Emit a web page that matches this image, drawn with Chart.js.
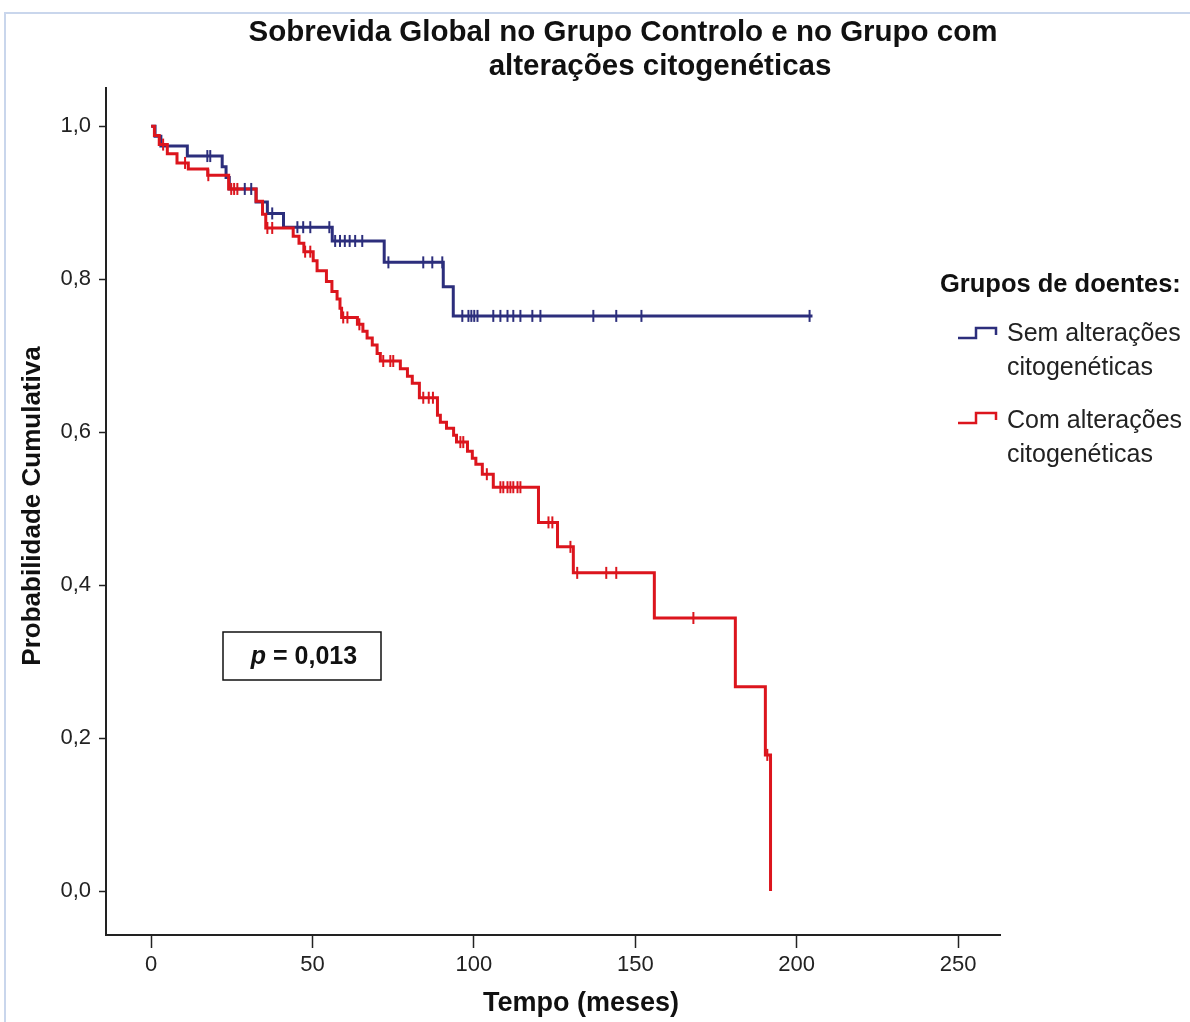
<!DOCTYPE html>
<html lang="pt">
<head>
    <meta charset="UTF-8">
    <title>Sobrevida Global</title>
    <style>
        body {
            margin: 0;
            background-color: #fff;
        }
        #caixa {
            width: 1190px;
            height: 1022px;
        }
    </style>
    <script src="https://cdn.jsdelivr.net/npm/chart.js@4/dist/chart.umd.min.js"></script>
</head>
<body>
    <div id="caixa"><canvas id="kmChart" width="1190" height="1022"></canvas></div>

    <script>
        // Grupo sem alterações citogenéticas (controlo)
        const semTempo = [0, 1.2, 3.0, 11.2, 22.0, 23.2, 24.2, 32.5, 36.0, 41.0, 56.1, 72.2, 90.5, 93.6, 204.9];
        const semSobrevida = [1.0, 0.987, 0.974, 0.961, 0.947, 0.933, 0.918, 0.901, 0.886, 0.868, 0.850, 0.822, 0.790, 0.752, 0.752];
        const semCensura = [17.4, 18.3, 29.0, 31.0, 37.5, 45.3, 47.1, 49.3, 55.2, 57.0, 58.5, 60.0, 61.5, 63.2, 65.4,
            73.5, 84.3, 87.1, 90.2, 96.4, 98.3, 99.2, 100.1, 101.1, 106.0, 108.2, 110.4, 112.2, 114.4, 118.1, 120.6,
            137.0, 144.1, 151.9, 204.0];

        // Grupo com alterações citogenéticas
        const comTempo = [0, 1.0, 2.5, 5.0, 8.0, 11.5, 17.5, 24.0, 32.5, 34.5, 35.5, 44.0, 45.8, 47.3, 50.2, 51.4,
            54.3, 56.0, 57.6, 58.5, 59.0, 63.9, 65.6, 66.9, 68.5, 70.0, 71.0, 77.2, 79.4, 80.9, 83.1, 88.7, 89.6,
            91.5, 93.7, 94.6, 98.0, 99.5, 100.6, 102.6, 106.0, 120.0, 125.9, 130.8, 155.9, 181.0, 190.3, 191.9];
        const comSobrevida = [1.0, 0.988, 0.976, 0.964, 0.952, 0.944, 0.936, 0.918, 0.902, 0.885, 0.867, 0.856, 0.847,
            0.836, 0.824, 0.811, 0.797, 0.784, 0.774, 0.762, 0.750, 0.741, 0.732, 0.723, 0.714, 0.703, 0.693, 0.683,
            0.673, 0.664, 0.645, 0.622, 0.613, 0.605, 0.596, 0.587, 0.575, 0.566, 0.558, 0.545, 0.528, 0.482, 0.450,
            0.416, 0.357, 0.267, 0.178, 0.0];
        const comCensura = [3.7, 10.5, 17.7, 24.8, 25.7, 26.7, 36.0, 37.5, 47.7, 49.3, 59.5, 60.8, 64.5, 71.9, 74.1,
            75.0, 84.3, 86.0, 87.3, 95.8, 96.7, 104.0, 108.2, 109.1, 110.4, 111.3, 112.2, 113.5, 114.4, 123.1, 124.3,
            129.9, 132.0, 141.0, 144.1, 168.0, 190.9];

        const ticksX = [0, 50, 100, 150, 200, 250];
        const ticksY = [0, 0.2, 0.4, 0.6, 0.8, 1.0];

        const titulo = ["Sobrevida Global no Grupo Controlo e no Grupo com", "alterações citogenéticas"];
        const tituloX = "Tempo (meses)";
        const tituloY = "Probabilidade Cumulativa";
        const legendaTitulo = "Grupos de doentes:";
        const legendaSem = ["Sem alterações", "citogenéticas"];
        const legendaCom = ["Com alterações", "citogenéticas"];
        const valorP = "0,013";

        const corSem = "#2c2e7c";
        const corCom = "#dc151d";
        const fonte = 'Arial, "Liberation Sans", sans-serif';

        // valor da curva (em escada) num dado tempo
        function sobrevidaEm(tempos, valores, t) {
            let v = valores[0];
            for (let i = 0; i < tempos.length; i++) {
                if (tempos[i] <= t) v = valores[i];
            }
            return v;
        }

        function pontos(tempos, valores) {
            return tempos.map((t, i) => ({ x: t, y: valores[i] }));
        }

        function censuras(lista, tempos, valores) {
            return lista.map(t => ({ x: t, y: sobrevidaEm(tempos, valores, t) }));
        }

        function iconeEscada(c, x, y, cor) {
            c.strokeStyle = cor;
            c.lineWidth = 2.5;
            c.beginPath();
            c.moveTo(x, y + 5);
            c.lineTo(x + 18, y + 5);
            c.lineTo(x + 18, y - 5);
            c.lineTo(x + 38, y - 5);
            c.lineTo(x + 38, y + 2);
            c.stroke();
        }

        const desenho = {
            id: "desenho",
            afterDraw(chart) {
                const c = chart.ctx;
                c.save();

                // moldura clara à volta da figura
                c.strokeStyle = "#c9d6ec";
                c.lineWidth = 2;
                c.beginPath();
                c.moveTo(5, 1022);
                c.lineTo(5, 13);
                c.lineTo(1190, 13);
                c.stroke();

                c.fillStyle = "#111";
                c.textBaseline = "middle";

                // título
                c.textAlign = "center";
                c.font = "bold 29.5px " + fonte;
                c.fillText(titulo[0], 623, 33);
                c.fillText(titulo[1], 660, 67);

                // títulos dos eixos
                c.font = "bold 27px " + fonte;
                c.fillText(tituloX, 581, 1004);
                c.font = "bold 26px " + fonte;
                c.save();
                c.translate(33, 506);
                c.rotate(-Math.PI / 2);
                c.fillText(tituloY, 0, 0);
                c.restore();

                // legenda
                c.textAlign = "left";
                c.font = "bold 25.5px " + fonte;
                c.fillText(legendaTitulo, 940, 285);
                c.font = "25px " + fonte;
                c.fillStyle = "#222";
                c.fillText(legendaSem[0], 1007, 334);
                c.fillText(legendaSem[1], 1007, 368);
                c.fillText(legendaCom[0], 1007, 421);
                c.fillText(legendaCom[1], 1007, 455);
                iconeEscada(c, 958, 333, corSem);
                iconeEscada(c, 958, 418, corCom);

                // caixa com o valor p
                c.strokeStyle = "#111";
                c.lineWidth = 1.5;
                c.strokeRect(223, 632, 158, 48);
                c.fillStyle = "#111";
                c.font = "italic bold 25px " + fonte;
                const w1 = c.measureText("p").width;
                c.font = "bold 25px " + fonte;
                const resto = " = " + valorP;
                const w2 = c.measureText(resto).width;
                const x0 = 304 - (w1 + w2) / 2;
                c.font = "italic bold 25px " + fonte;
                c.fillText("p", x0, 657);
                c.font = "bold 25px " + fonte;
                c.fillText(resto, x0 + w1, 657);

                c.restore();
            }
        };

        const ctx = document.getElementById("kmChart").getContext("2d");

        new Chart(ctx, {
            type: "scatter",
            data: {
                datasets: [
                    {
                        label: legendaSem.join(" "),
                        data: censuras(semCensura, semTempo, semSobrevida),
                        pointStyle: "line",
                        pointRotation: 90,
                        pointRadius: 6,
                        pointBorderWidth: 2,
                        pointBorderColor: corSem
                    },
                    {
                        label: legendaCom.join(" "),
                        data: censuras(comCensura, comTempo, comSobrevida),
                        pointStyle: "line",
                        pointRotation: 90,
                        pointRadius: 6,
                        pointBorderWidth: 2,
                        pointBorderColor: corCom
                    },
                    {
                        label: legendaCom.join(" "),
                        data: pontos(comTempo, comSobrevida),
                        showLine: true,
                        stepped: "before",
                        borderColor: corCom,
                        borderWidth: 3,
                        pointRadius: 0
                    },
                    {
                        label: legendaSem.join(" "),
                        data: pontos(semTempo, semSobrevida),
                        showLine: true,
                        stepped: "before",
                        borderColor: corSem,
                        borderWidth: 3,
                        pointRadius: 0
                    }
                ]
            },
            options: {
                responsive: false,
                animation: false,
                layout: {
                    padding: { top: 88, right: 190, left: 0, bottom: 0 }
                },
                plugins: {
                    legend: { display: false },
                    title: { display: false },
                    tooltip: { enabled: false }
                },
                scales: {
                    x: {
                        type: "linear",
                        min: -14,
                        max: 263,
                        afterBuildTicks: s => { s.ticks = ticksX.map(v => ({ value: v })); },
                        afterFit: s => { s.height = 87; },
                        grid: {
                            drawOnChartArea: false,
                            drawTicks: true,
                            tickLength: 13,
                            tickColor: "#222",
                            tickWidth: 1.5
                        },
                        border: { color: "#222", width: 2 },
                        ticks: {
                            color: "#222",
                            font: { family: fonte, size: 22 },
                            padding: 4,
                            maxRotation: 0
                        }
                    },
                    y: {
                        min: -0.0575,
                        max: 1.05,
                        afterBuildTicks: s => { s.ticks = ticksY.map(v => ({ value: v })); },
                        afterFit: s => { s.width = 106; },
                        grid: {
                            drawOnChartArea: false,
                            drawTicks: true,
                            tickLength: 7,
                            tickColor: "#222",
                            tickWidth: 1.5
                        },
                        border: { color: "#222", width: 2 },
                        ticks: {
                            color: "#222",
                            font: { family: fonte, size: 22 },
                            padding: 8,
                            callback: v => v.toFixed(1).replace(".", ",")
                        }
                    }
                }
            },
            plugins: [desenho]
        });
    </script>
</body>
</html>
